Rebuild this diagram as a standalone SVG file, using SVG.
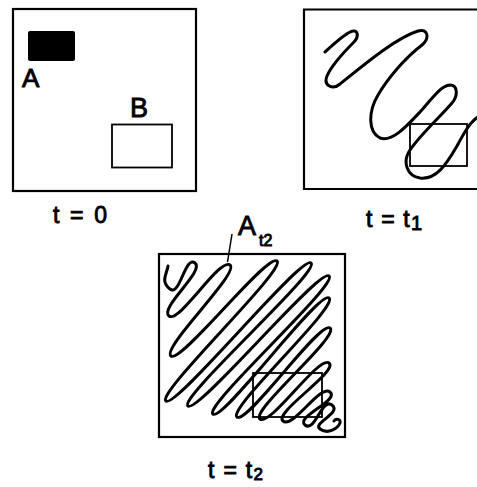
<svg xmlns="http://www.w3.org/2000/svg" width="477" height="487" viewBox="0 0 477 487">
<style>
.box{fill:none;stroke:#000;stroke-width:2.2}
.inner{fill:none;stroke:#000;stroke-width:1.8}
.curve{fill:none;stroke:#000;stroke-width:3;stroke-linecap:round;stroke-linejoin:round}
.lbl{font-family:"Liberation Sans",Arial,sans-serif;fill:#000;stroke:#000;stroke-width:0.9}
</style>
<rect width="477" height="487" fill="#fff"/>
<g id="panel-t0">
  <rect class="box" x="13" y="9" width="183" height="182"/>
  <rect id="set-A" x="28" y="31" width="47" height="30" rx="2" fill="#000"/>
  <text class="lbl" x="22" y="87" font-size="26">A</text>
  <rect id="set-B" class="inner" x="112" y="124.5" width="60" height="43"/>
  <text class="lbl" x="130" y="117" font-size="27">B</text>
  <text class="lbl" x="53" y="223" font-size="23" textLength="54" lengthAdjust="spacing">t = 0</text>
</g>
<g id="panel-t1">
  <path class="box" d="M479,9.5 H304 V189 H479"/>
  <rect class="inner" x="410" y="124" width="57" height="42"/>
  <path class="curve" d="M325,52 C333,45 346,32 353,31 C358,30 359,37 354,42 C346,50 332,64 327,76 C323,86 333,90 340,84 C360,68 395,38 418,31 C428,28 430,38 422,45 C405,58 388,78 378,95 C368,112 368,132 380,138 C392,142 405,128 420,112 C432,99 440,86 450,85 C458,85 458,96 452,103 C440,117 420,135 410,150 C402,162 407,176 420,178 C436,180 446,165 457,146 C464,133 470,122 478,117"/>
  <text class="lbl" x="366" y="227" font-size="23" textLength="56" lengthAdjust="spacing">t = t<tspan font-size="20" dy="3">1</tspan></text>
</g>
<g id="panel-t2">
  <rect class="box" x="159" y="254" width="186" height="183"/>
  <rect class="inner" x="253" y="373" width="69" height="44"/>
  <path class="curve" d="M168,266 C167,274 160,281 170,289 C180,297 185,255 195,263 C205,271 159,308 169,316 C179,324 220,257 230,265 C240,273 161,348 171,356 C181,364 267,253 277,261 C287,269 156,393 166,401 C176,409 301,255 311,263 C321,271 178,398 188,406 C198,414 319,268 329,276 C339,284 203,406 213,414 C223,422 319,290 329,298 C339,306 227,409 237,417 C247,425 320,320 330,328 C340,336 250,411 260,419 C270,427 319,355 329,363 C339,371 273,413 283,421 C293,429 320,384 330,392 C340,400 295,417 305,425 C315,433 322,397 332,405 C342,413 312,423 320,429 C328,435 338,428 340,423 C341,419 336,418 334,421"/>
  <text class="lbl" x="238" y="235" font-size="27">A<tspan font-size="16" dx="3" dy="11">t2</tspan></text>
  <text class="lbl" x="208" y="478" font-size="23" textLength="55" lengthAdjust="spacing">t = t<tspan font-size="17" dy="2">2</tspan></text>
</g>
<g id="connectors">
  <line x1="232" y1="234" x2="227.5" y2="262" stroke="#000" stroke-width="1.5"/>
</g>
</svg>
